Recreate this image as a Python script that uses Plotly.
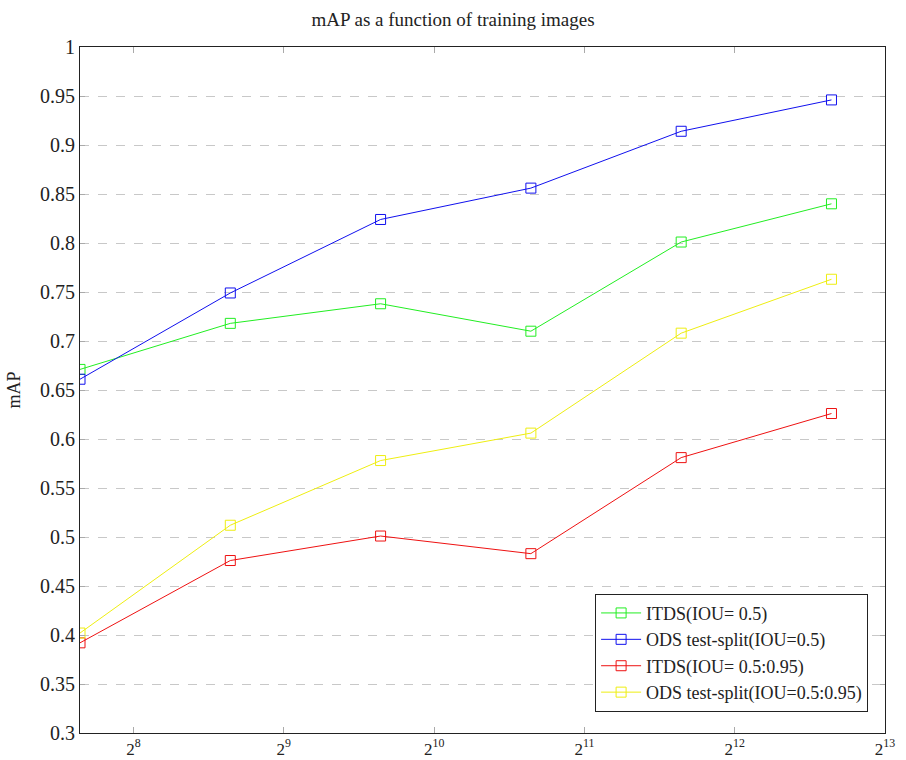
import plotly.graph_objects as go

images = [200, 400, 800, 1600, 3200, 6400]
itds_05 = [0.671, 0.718, 0.738, 0.710, 0.801, 0.840]
ods_05 = [0.661, 0.749, 0.824, 0.856, 0.914, 0.946]
itds_0595 = [0.392, 0.476, 0.501, 0.483, 0.581, 0.626]
ods_0595 = [0.402, 0.512, 0.578, 0.606, 0.708, 0.763]

x_tickvals = [256, 512, 1024, 2048, 4096, 8192]
x_ticktext = ["2<sup>8</sup>", "2<sup>9</sup>", "2<sup>10</sup>", "2<sup>11</sup>", "2<sup>12</sup>", "2<sup>13</sup>"]
y_tickvals = [0.3, 0.35, 0.4, 0.45, 0.5, 0.55, 0.6, 0.65, 0.7, 0.75, 0.8, 0.85, 0.9, 0.95, 1.0]
y_ticktext = ["0.3", "0.35", "0.4", "0.45", "0.5", "0.55", "0.6", "0.65", "0.7", "0.75", "0.8", "0.85", "0.9", "0.95", "1"]

series = [
    ("ITDS(IOU= 0.5)", itds_05, "#22ee22"),
    ("ODS test-split(IOU=0.5)", ods_05, "#1010ee"),
    ("ITDS(IOU= 0.5:0.95)", itds_0595, "#ee1111"),
    ("ODS test-split(IOU=0.5:0.95)", ods_0595, "#eeee11"),
]

fig = go.Figure()
for name, vals, col in series:
    fig.add_trace(go.Scatter(
        x=images, y=vals, name=name, mode="lines+markers",
        line=dict(color=col, width=1),
        marker=dict(symbol="square-open", size=10, color=col, line=dict(width=1)),
    ))

font = "Liberation Serif"
fig.update_layout(
    width=906, height=760,
    margin=dict(l=80, r=21, t=47, b=27),
    paper_bgcolor="white", plot_bgcolor="white",
    font=dict(family=font, size=19, color="#222222"),
    title=dict(text="mAP as a function of training images", x=0.5, xanchor="center",
               y=0.975, yanchor="middle", font=dict(size=19, family=font)),
    showlegend=True,
    legend=dict(x=0.979, y=0.031, xanchor="right", yanchor="bottom",
                bgcolor="white", bordercolor="#222222", borderwidth=1,
                font=dict(size=18, family=font), tracegroupgap=0, itemwidth=40),
)
fig.update_xaxes(
    type="log", range=[2.30103, 3.913384], automargin=False,
    tickvals=x_tickvals, ticktext=x_ticktext,
    showgrid=False, zeroline=False,
    showline=True, linecolor="#222222", linewidth=1.2, mirror="ticks",
    ticks="inside", ticklen=6, tickcolor="#aaaaaa", tickwidth=1,
    tickfont=dict(size=17, family=font), ticklabelstandoff=0,
)
fig.update_yaxes(
    range=[0.3, 1.0], automargin=False,
    tickvals=y_tickvals, ticktext=y_ticktext,
    showgrid=True, gridcolor="#c8c8c8", griddash="dash", gridwidth=1,
    zeroline=False,
    showline=True, linecolor="#222222", linewidth=1.2, mirror="ticks",
    ticks="inside", ticklen=5, tickcolor="#aaaaaa", tickwidth=1,
    tickfont=dict(size=20, family=font),
    title=dict(text="mAP", font=dict(size=18, family=font), standoff=14),
)

fig.write_html(
    "out.html",
    config={"displayModeBar": False},
    post_script="document.body.style.margin='0';document.body.style.overflow='hidden';",
)
